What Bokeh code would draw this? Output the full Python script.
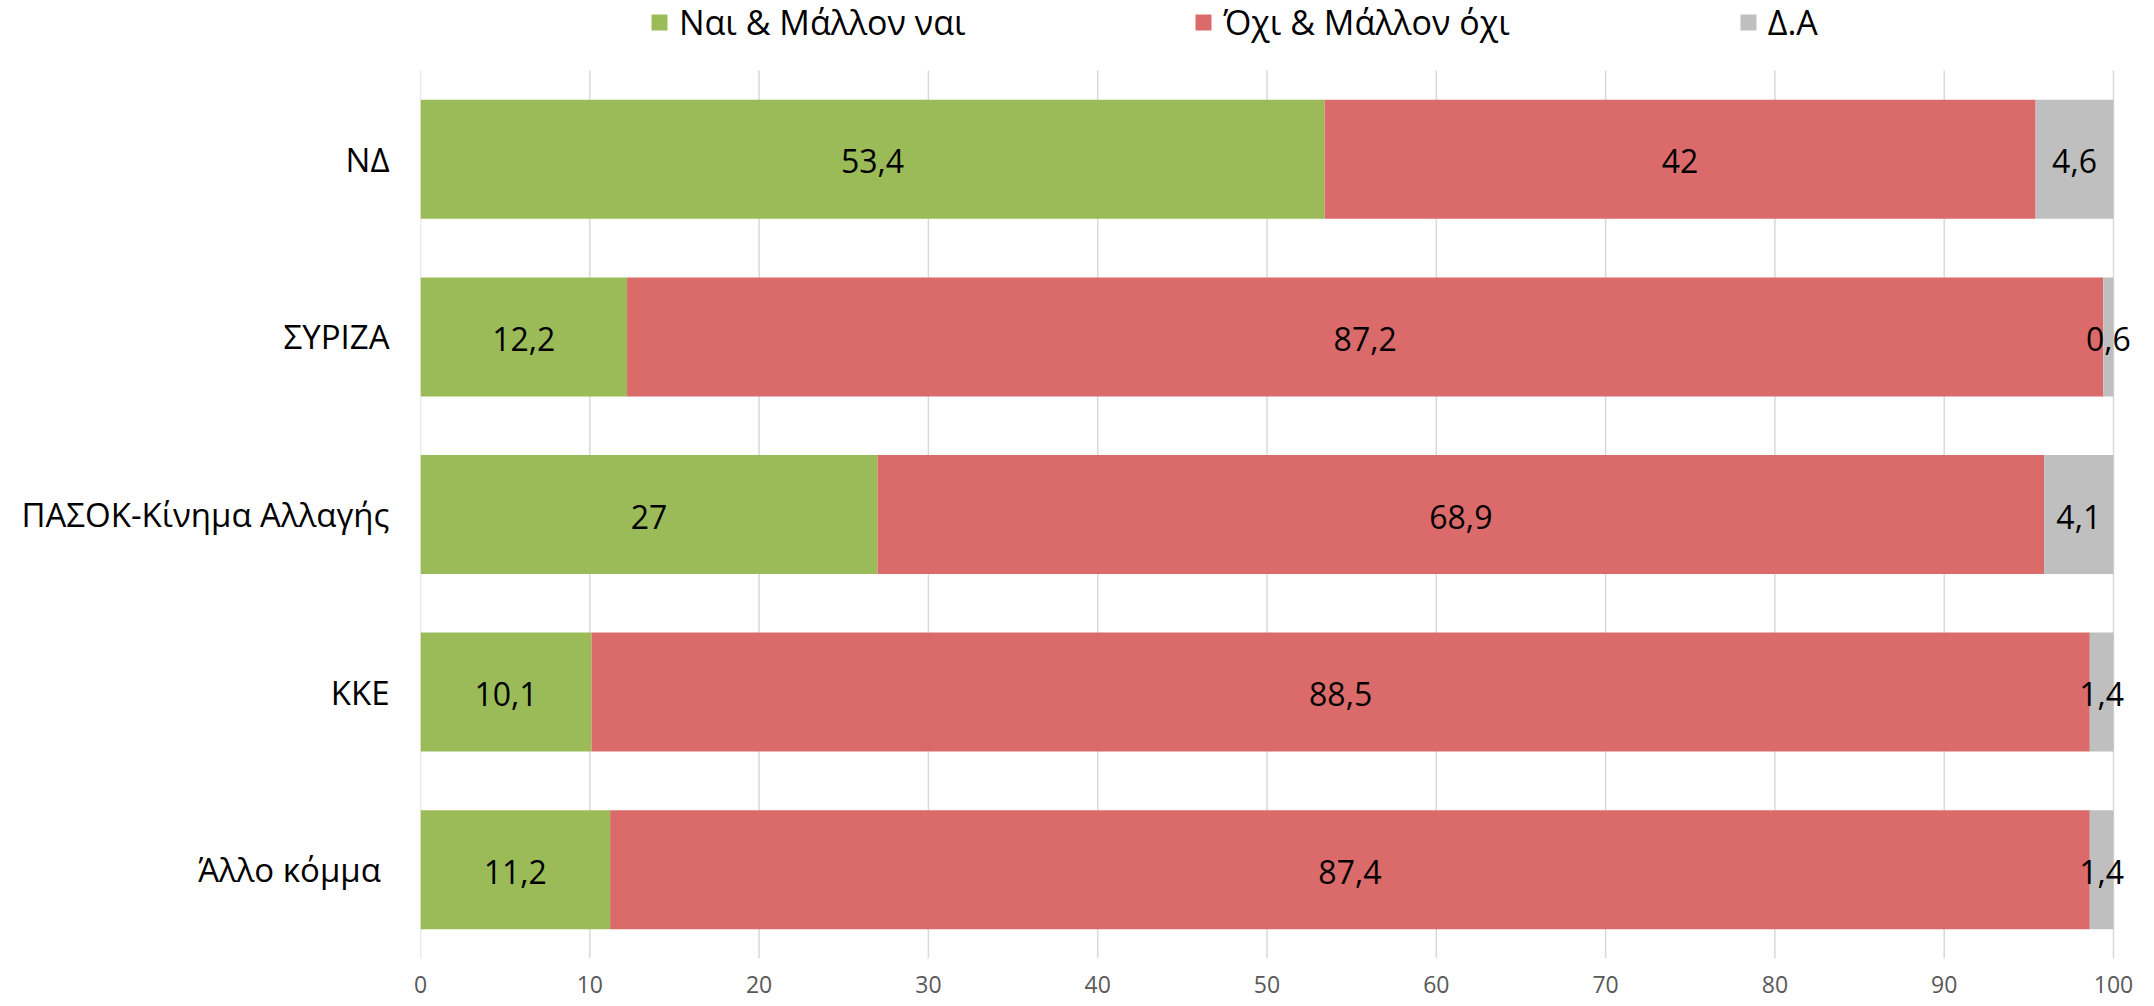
from bokeh.plotting import figure
from bokeh.models import ColumnDataSource, Range1d, Legend, LegendItem, FixedTicker
from bokeh.core.properties import value
from bokeh.embed import file_html
from bokeh.resources import INLINE

parties = ["ΝΔ", "ΣΥΡΙΖΑ", "ΠΑΣΟΚ-Κίνημα Αλλαγής", "ΚΚΕ", "Άλλο κόμμα "]
yes_vals = [53.4, 12.2, 27, 10.1, 11.2]
no_vals = [42, 87.2, 68.9, 88.5, 87.4]
dk_vals = [4.6, 0.6, 4.1, 1.4, 1.4]
series_names = ["Ναι & Μάλλον ναι", "Όχι & Μάλλον όχι", "Δ.Α"]
series_keys = ["yes", "no", "dk"]
colors = ["#9BBB59", "#DA6B6A", "#BFBFBF"]
x_ticks = [0, 10, 20, 30, 40, 50, 60, 70, 80, 90, 100]

FONT = "Open Sans"

n = len(parties)
ypos = [float(n - 1 - i) for i in range(n)]  # first party on top

source = ColumnDataSource(dict(y=ypos, yes=yes_vals, no=no_vals, dk=dk_vals))

# geometry (screen px)
FIG_W, FIG_H = 2154, 1006
BORDER_L, BORDER_R, BORDER_B = 420, 1, 48
BAND_TOP_PX = 70          # top of the first category band
SCALE_W = 1693            # px width of the 0..100 scale
frame_h = FIG_H - BORDER_B
frame_w = FIG_W - BORDER_L - BORDER_R
px_per_unit = (frame_h - BAND_TOP_PX) / n
y_start = -0.5
y_end = y_start + frame_h / px_per_unit
x_end = 100 * frame_w / SCALE_W

p = figure(
    width=FIG_W, height=FIG_H,
    y_range=Range1d(y_start, y_end),
    x_range=Range1d(0, x_end),
    output_backend="svg", toolbar_location=None,
    min_border_left=BORDER_L, min_border_right=BORDER_R, min_border_top=0,
    min_border_bottom=BORDER_B,
)

# vertical grid lines, spanning the category bands only
p.segment(x0=x_ticks, x1=x_ticks, y0=[y_start] * len(x_ticks), y1=[n - 0.5] * len(x_ticks),
          line_color="#D9D9D9", line_width=1.5)

renderers = p.hbar_stack(series_keys, y="y", height=0.67, color=colors,
                         line_color=None, source=source)

# value labels
lab_x, lab_y, lab_t = [], [], []
for i in range(n):
    left = 0
    for vals in (yes_vals, no_vals, dk_vals):
        v = vals[i]
        lab_x.append(left + v / 2)
        lab_y.append(ypos[i])
        lab_t.append(str(v).replace(".", ","))
        left += v
p.text(x=lab_x, y=lab_y, text=lab_t, text_align="center", text_baseline="middle",
       text_font=value(FONT), text_font_size="32px", text_color="#000000", y_offset=2)

# legend
items = [LegendItem(label=nm, renderers=[r]) for nm, r in zip(series_names, renderers)]
legend = Legend(items=items, orientation="horizontal", location=(229, frame_h - 45),
                glyph_width=20, glyph_height=20, label_standoff=10, spacing=228,
                label_text_font=FONT, label_text_font_size="34px", label_text_color="#000000",
                padding=0, margin=0, border_line_color=None, background_fill_alpha=0)
p.add_layout(legend, "center")

# axes
p.xaxis.ticker = FixedTicker(ticks=x_ticks)
p.xaxis.axis_line_color = None
p.xaxis.major_tick_line_color = None
p.xaxis.minor_tick_line_color = None
p.xaxis.major_tick_out = 0
p.xaxis.major_label_standoff = 17
p.xaxis.major_label_text_font = FONT
p.xaxis.major_label_text_font_size = "23px"
p.xaxis.major_label_text_color = "#595959"

p.yaxis.ticker = FixedTicker(ticks=ypos)
p.yaxis.major_label_overrides = {y: nm for y, nm in zip(ypos, parties)}
p.yaxis.axis_line_color = None
p.yaxis.major_tick_line_color = None
p.yaxis.minor_tick_line_color = None
p.yaxis.major_tick_out = 0
p.yaxis.major_label_standoff = 31
p.yaxis.major_label_text_font = FONT
p.yaxis.major_label_text_font_size = "33px"
p.yaxis.major_label_text_color = "#000000"

p.xgrid.grid_line_color = None
p.ygrid.grid_line_color = None
p.outline_line_color = None

open("out.html", "w").write(file_html(p, INLINE))
